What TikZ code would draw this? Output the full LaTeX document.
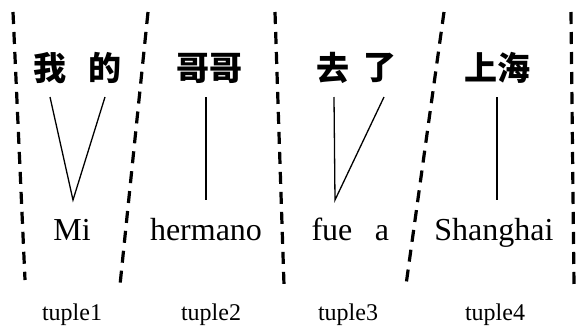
\documentclass[tikz,border=0pt]{standalone}
\usepackage{fontspec}
\setmainfont{Liberation Serif}
\newfontfamily\cjk{Noto Sans CJK SC}
\begin{document}
\begin{tikzpicture}[x=1pt,y=-1pt,
  zh/.style={font=\cjk\bfseries\fontsize{33}{33}\selectfont, inner sep=0pt},
  es/.style={font=\fontsize{32}{32}\selectfont, inner sep=0pt, anchor=base},
  tup/.style={font=\fontsize{24}{24}\selectfont, inner sep=0pt, anchor=base},
  link/.style={line width=1.3pt},
  sep/.style={line width=3.2pt, dash pattern=on 12pt off 8pt}]
\useasboundingbox (0,0) rectangle (579,325);
% chinese
\node[zh] (c1) at (50,68) {我};
\node[zh] (c2) at (105,68) {的};
\node[zh] (c3) at (209,68) {哥哥};
\node[zh] (c4) at (333,68) {去};
\node[zh] (c5) at (380,68) {了};
\node[zh] (c6) at (497,68) {上海};
% spanish
\node[es] (s1) at (72,240) {Mi};
\node[es] (s2) at (206,240) {hermano};
\node[es] (s3) at (332,240) {fue};
\node[es] (s4) at (382,240) {a};
\node[es] (s5) at (494,240) {Shanghai};
% tuples
\node[tup] (t1) at (72,320) {tuple1};
\node[tup] (t2) at (211,320) {tuple2};
\node[tup] (t3) at (348,320) {tuple3};
\node[tup] (t4) at (495,320) {tuple4};
% alignment links
\coordinate (a1) at (50,97);  \coordinate (a2) at (105,97);
\coordinate (b1) at (73,200);
\coordinate (a3) at (206,97); \coordinate (b2) at (206,200);
\coordinate (a4) at (334,97); \coordinate (a5) at (384,97);
\coordinate (b3) at (335,200);
\coordinate (a6) at (497,97); \coordinate (b4) at (497,200);
\draw[link] (a1) -- (b1) -- (a2);
\draw[link] (a3) -- (b2);
\draw[link] (a4) -- (b3) -- (a5);
\draw[link] (a6) -- (b4);
% separators
\coordinate (p1) at (13,12);  \coordinate (q1) at (25,280);
\coordinate (p2) at (148,12); \coordinate (q2) at (120,285);
\coordinate (p3) at (275,12); \coordinate (q3) at (284,285);
\coordinate (p4) at (444,12); \coordinate (q4) at (406,285);
\coordinate (p5) at (571,12); \coordinate (q5) at (574,285);
\foreach \i in {1,...,5} \draw[sep] (p\i) -- (q\i);
\end{tikzpicture}
\end{document}
